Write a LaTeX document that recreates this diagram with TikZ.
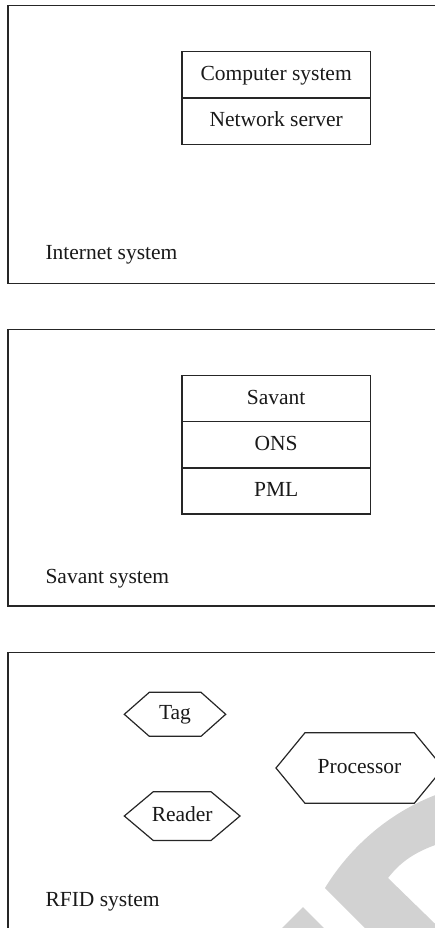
\documentclass[tikz,border=0pt]{standalone}
\usepackage{fontspec}
\setmainfont{Liberation Serif}
\begin{document}
\begin{tikzpicture}[x=1pt,y=-1pt,
  every node/.style={font=\fontsize{21.5}{25}\selectfont, text=black!90},
  frame/.style={draw=black!85, line width=1.2pt},
  cell/.style={draw=black!85, line width=1.2pt, rectangle, inner sep=0pt,
     minimum width=188.3pt, minimum height=46.2pt, text height=11pt, text depth=0pt},
  hexline/.style={draw=black!85, line width=1.2pt, line join=miter},
  hextext/.style={inner sep=0pt, text height=10pt, text depth=0pt},
  syslabel/.style={anchor=base west, inner sep=0pt},
  wmark/.style={fill=gray!35, draw=none}]
\useasboundingbox (0,0) rectangle (435,928);
\clip (0,0) rectangle (435,928);

% watermark fragments
\fill[wmark] (325,888) -- (387,950) -- (462,950) -- (388,878)
   .. controls (402,860) and (420,847) .. (460,838) -- (460,786) -- (450,790)
   .. controls (385,810) and (345,855) .. (325,888) -- cycle;
\fill[wmark] (303,907) -- (278,932) -- (328,932) -- cycle;

% outer frames
\draw[frame] (8,5.3) rectangle (460,283.3);
\draw[frame] (8,329.3) rectangle (460,606);
\draw[frame] (8,652.7) rectangle (460,960);

% Internet system
\node[cell] (cs) at (276.2,75) {Computer system};
\node[cell] (ns) at (276.2,121.2) {Network server};
\node[syslabel] (inet) at (45.3,259.3) {Internet system};

% Savant system
\node[cell] (sav) at (276.2,398.7) {Savant};
\node[cell] (ons) at (276.2,444.8) {ONS};
\node[cell] (pml) at (276.2,490.9) {PML};
\node[syslabel] (savsys) at (45.3,583.3) {Savant system};

% RFID system
\draw[hexline] (124.3,714.3) -- (149.3,692.3) -- (201,692.3) -- (225.7,714.3) -- (201,736.3) -- (149.3,736.3) -- cycle;
\node[hextext] (tag) at (175,714.3) {Tag};
\draw[hexline] (124.3,816) -- (153.3,791.7) -- (211,791.7) -- (240,816) -- (211,840.5) -- (153.3,840.5) -- cycle;
\node[hextext] (reader) at (182.2,816) {Reader};
\draw[hexline] (276,768) -- (305,732.7) -- (414.3,732.7) -- (443.3,768) -- (414.3,803.3) -- (305,803.3) -- cycle;
\node[hextext] (proc) at (359.5,768) {Processor};
\node[syslabel] (rfid) at (45.3,906) {RFID system};
\end{tikzpicture}
\end{document}
